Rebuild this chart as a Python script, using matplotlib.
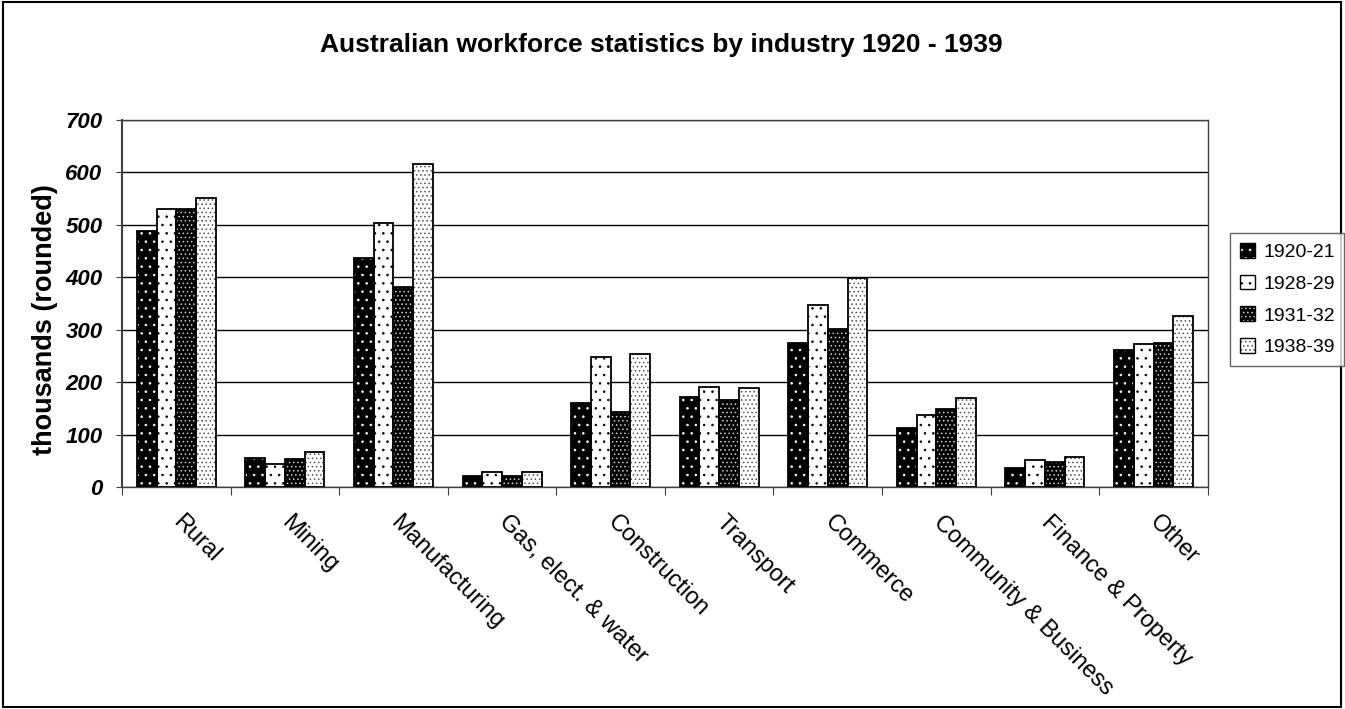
import matplotlib.pyplot as plt
import matplotlib.patches as mpatches
import matplotlib.transforms as mtransforms
from matplotlib.legend_handler import HandlerTuple
import numpy as np

plt.rcParams['font.family'] = ['Liberation Sans', 'DejaVu Sans']
plt.rcParams['hatch.linewidth'] = 0.6

industries = ["Rural", "Mining", "Manufacturing", "Gas, elect. & water", "Construction",
              "Transport", "Commerce", "Community & Business", "Finance & Property", "Other"]
years = ["1920-21", "1928-29", "1931-32", "1938-39"]
v1920 = [489, 56, 436, 21, 160, 172, 274, 112, 37, 262]
v1928 = [531, 44, 504, 28, 248, 191, 347, 138, 51, 272]
v1931 = [531, 53, 382, 21, 143, 166, 301, 148, 48, 275]
v1938 = [551, 66, 616, 29, 253, 189, 398, 170, 57, 326]
series = [v1920, v1928, v1931, v1938]

# fill, dot colour, hatch
styles = [("black", "white", ".."),
          ("white", "black", ".."),
          ("black", "#d0d0d0", "...."),
          ("white", "#505050", "....")]

fig = plt.figure(figsize=(13.45, 7.09), dpi=100)
ax = fig.add_axes([0.0907, 0.3131, 0.898 - 0.0907, 0.8307 - 0.3131])

x = np.arange(len(industries))
w = 1 / 5.5
handles = []
for i, (vals, (fc, hc, h)) in enumerate(zip(series, styles)):
    pos = x - 1.5 * w + i * w
    ax.bar(pos, vals, w, color=fc, edgecolor=hc, hatch=h, linewidth=0, zorder=3)
    ax.bar(pos, vals, w, fill=False, edgecolor="black", linewidth=1.3, zorder=4)
    p1 = mpatches.Patch(facecolor=fc, edgecolor=hc, hatch=h, linewidth=0)
    p2 = mpatches.Patch(fill=False, edgecolor="black", linewidth=1.0)
    handles.append((p1, p2))

ax.set_xlim(-0.5, len(industries) - 0.5)
ax.set_ylim(0, 700)
ax.set_yticks(range(0, 701, 100))
ax.yaxis.grid(True, color="black", linewidth=1.0, zorder=0)
ax.set_axisbelow(True)
ax.set_xticks(np.arange(len(industries) + 1) - 0.5)
ax.set_xticklabels([])
ax.set_xticks(x, minor=True)
ax.set_xticklabels(industries, minor=True, rotation=-45, ha="left", va="center",
                   rotation_mode="anchor", fontsize=17)
shift = mtransforms.ScaledTranslation(2 / 100, 0, fig.dpi_scale_trans)
for lab in ax.get_xticklabels(minor=True):
    lab.set_transform(lab.get_transform() + shift)
ax.tick_params(axis="x", which="minor", length=0, pad=23)
ax.tick_params(axis="x", which="major", length=6, direction="out", color="#404040")
ax.tick_params(axis="y", length=4, direction="out", color="#404040", pad=10)
for lab in ax.get_yticklabels():
    lab.set_fontsize(16)
    lab.set_fontweight("bold")
    lab.set_fontstyle("italic")
for s in ax.spines.values():
    s.set_color("#404040")
    s.set_linewidth(1.0)
ax.spines["left"].set_linewidth(1.5)

fig.text(45 / 1345, 1 - 320 / 709, "thousands (rounded)", rotation=90, ha="center",
         va="center", fontsize=19.5, fontweight="bold")
fig.text(661 / 1345, 1 - 45 / 709, "Australian workforce statistics by industry 1920 - 1939",
         ha="center", va="center", fontsize=19, fontweight="bold")

leg = fig.legend(handles, years, loc="upper left", bbox_to_anchor=(0.9145, 0.6714),
                 handler_map={tuple: HandlerTuple(ndivide=1, pad=0)},
                 fontsize=14, frameon=True, fancybox=False, edgecolor="#404040",
                 handlelength=0.8, handleheight=0.8, handletextpad=0.4,
                 labelspacing=0.7, borderpad=0.5, borderaxespad=0)
leg.get_frame().set_linewidth(1.0)

fig.patches.append(mpatches.Rectangle((0.002, 0.003), 0.995, 0.994, transform=fig.transFigure,
                                      fill=False, edgecolor="black", linewidth=1.5))

fig.savefig("out.png", dpi=100)
